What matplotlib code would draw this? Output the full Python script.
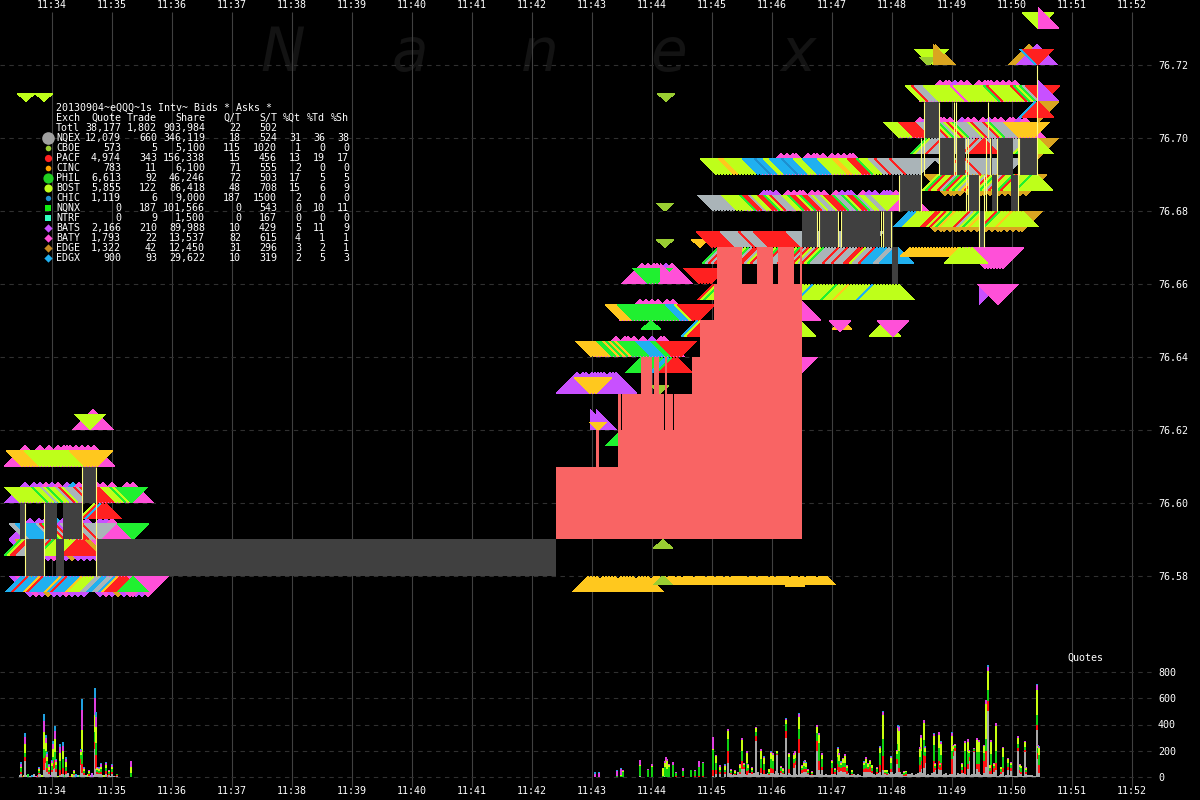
import matplotlib
matplotlib.use("Agg")
import matplotlib.pyplot as plt
from matplotlib.collections import PolyCollection

# eixo x em segundos desde 11:33:08 (1 s = 1 px no original)
minute_ticks = [52, 112, 172, 232, 292, 352, 412, 472, 532, 592, 652, 712, 772, 832, 892, 952, 1012, 1072, 1132]
minute_labels = ["11:34", "11:35", "11:36", "11:37", "11:38", "11:39", "11:40", "11:41", "11:42", "11:43",
                 "11:44", "11:45", "11:46", "11:47", "11:48", "11:49", "11:50", "11:51", "11:52"]
price_ticks = [76.58, 76.60, 76.62, 76.64, 76.66, 76.68, 76.70, 76.72]
quote_ticks = [0, 200, 400, 600, 800]

# tabela de resumo
table_exch = ["NQEX", "CBOE", "PACF", "CINC", "PHIL", "BOST", "CHIC", "NQNX", "NTRF", "BATS", "BATY", "EDGE", "EDGX"]
table_quote = ["12,079", "573", "4,974", "783", "6,613", "5,855", "1,119", "0", "0", "2,166", "1,793", "1,322", "900"]
table_trade = ["660", "5", "343", "11", "92", "122", "6", "187", "9", "210", "22", "42", "93"]
table_share = ["346,119", "5,100", "156,338", "6,100", "46,246", "86,418", "9,000", "101,566", "1,500", "89,988",
               "13,537", "12,450", "29,622"]
table_qt = ["18", "115", "15", "71", "72", "48", "187", "0", "0", "10", "82", "31", "10"]
table_st = ["524", "1020", "456", "555", "503", "708", "1500", "543", "167", "429", "615", "296", "319"]
table_xq = ["31", "1", "13", "2", "17", "15", "2", "0", "0", "5", "4", "3", "2"]
table_xt = ["36", "0", "19", "0", "5", "6", "0", "10", "0", "11", "1", "2", "5"]
table_xs = ["38", "0", "17", "0", "5", "9", "0", "11", "0", "9", "1", "1", "3"]

# cores por bolsa (uma letra por bolsa)
colors = {
    "q": "#AAB4B8", "c": "#9ACD32", "p": "#FF2020", "i": "#FFC81E", "h": "#20F030", "b": "#BEFF1A",
    "x": "#1E90D0", "n": "#10F010", "t": "#30FFC0", "a": "#C850FF", "y": "#FF50D8", "e": "#DAA520", "g": "#20B0F0",
}
legend_colors = ["#A0A0A0", "#9ACD32", "#FF2020", "#FFA500", "#20D020", "#BEFF1A", "#1E90D0",
                 "#10F010", "#30FFC0", "#C850FF", "#FF50D8", "#C88A20", "#20B0F0"]
legend_markers = ["o", "o", "o", "o", "o", "o", "o", "s", "s", "D", "D", "D", "D"]
legend_sizes = [110, 22, 36, 22, 72, 45, 20, 22, 22, 24, 24, 24, 24]

# cotações: início, preço, tipo, uma letra por cotação (a cada 3 s), espaço = sem cotação
band_start = [
    93, 25, 25, 127, 30, 100, 30, 100, 30, 100, 133,
    577, 590, 616, 640, 642, 764, 781, 920, 940, 935, 1029, 1037,
    90, 22, 20, 132, 25, 133, 20, 94, 21, 96, 133,
    590, 598, 621, 660, 651, 621, 591, 641, 648, 660, 699, 697, 700,
    935, 945, 985,
    712, 718, 713, 713, 716, 909, 910, 960, 938, 950,
    899, 921, 926, 984, 930, 928, 933,
    979, 998, 885, 893, 842, 840, 797, 800, 800,
    1038, 1038, 1035, 1038, 1038, 1035, 1038, 1038,
    588, 655, 663, 663, 795, 666, 665, 665, 666, 26, 44,
]
band_price = [
    76.62, 76.61, 76.60, 76.60, 76.59, 76.59, 76.59, 76.59, 76.58, 76.58, 76.58,
    76.63, 76.62, 76.64, 76.65, 76.66, 76.68, 76.69, 76.70, 76.71, 76.72, 76.72, 76.72,
    76.62, 76.61, 76.60, 76.60, 76.59, 76.59, 76.59, 76.60, 76.58, 76.58, 76.58,
    76.63, 76.62, 76.62, 76.63, 76.65, 76.65, 76.64, 76.64, 76.66, 76.66, 76.66, 76.65, 76.67,
    76.68, 76.69, 76.67,
    76.67, 76.67, 76.66, 76.68, 76.69, 76.68, 76.67, 76.67, 76.69, 76.69,
    76.70, 76.71, 76.70, 76.70, 76.72, 76.72, 76.72,
    76.66, 76.66, 76.65, 76.65, 76.65, 76.65, 76.64, 76.65, 76.65,
    76.73, 76.73, 76.72, 76.71, 76.71, 76.71, 76.70, 76.70,
    76.58, 76.58, 76.59, 76.58, 76.58, 76.71, 76.68, 76.67, 76.71, 76.71, 76.71,
]
band_kind = [
    "hi", "hi", "hi", "hi", "hi", "hi", "lo", "lo", "lo", "lo", "lo",
    "hi", "hi_r", "hi", "hi", "hi", "hi", "hi", "hi", "hi", "hi_r", "hi", "hi",
    "bid", "bid", "bid", "bid", "bid", "bid", "ask", "ask", "ask", "ask", "ask",
    "bid", "bid_s", "ask", "bid_s", "ask_s", "bid", "bid", "ask", "bid", "hi_r", "bid", "ask", "bid_s",
    "lo", "lo", "lo",
    "bid", "ask", "ask", "bid", "bid", "ask", "ask_s", "ask", "ask", "bid",
    "bid", "bid", "ask", "ask", "bid", "bid_s", "hi_r",
    "lo_r", "lo", "ask", "lo_m", "ask_s", "lo_s", "lo", "hi_r", "ask",
    "bid", "hi_r", "bid", "hi_r", "lo_r", "ask", "lo_r", "ask",
    "ask", "ask_s", "ask_s", "ask_s", "ask_m", "bid_s", "bid_s", "bid_s", "bid_s", "bid_s", "bid_s",
]
band_codes = [
    "y", "y    y  y  y yyy y y y y", "a  a a y a y  a g y a a y y  y", "y y", "a  a a a g a a a a a", "a a y",
    "a e a a y a a e a a a a y a a y", "a e y a", "a y a e a a y a a a", "a y a e a y a a y", "y",
    "a aa aaaaa aaa", "a a", "y  yy y  y  a  yy", "y y y y  y y", "y y yy  a y",
    "aaa a   y y yy  y y y   y a aa   y a a  aaa y a y", "y y yy   y yy y  y y y yy",
    "y a  y yy y   a y y  y a y y  yy a y", "y yy a y y   y yyy y y y y", "e", "e", "a",
    "b", "iiiiiibbbbbbbbbbbbbbbiiiii", "bbbbbbbbbhbbqbhbbqpbqqqpqpppppppbbbhbh", "h",
    "qqgggggggqphbpqpaqqqppqqpq", "h", "hbppqqqqpqphbbbbbbbppp", "bpgpp", "ggpgggipgggggigpggggibbbb",
    "qqggqqgippp", "h",
    "iii", "i", "h", "c", "h", "iiiihhhhhhhhhhhhhhhhgggbppp", "iiiiiiihhihihihhhhhhggggghhpppp", "hhhhhhhhgghpp",
    "hhhh", "y", "ppppp", "gbp", "i",
    "e ee e ee e e e ee e ee e e ee", "e ee e  e e ee e ee e e ee e", "yyyyyyy",
    "ppppppppqqqqqqpqqqqpppppppppppqqqqqqqqqqqqqqqqqqqqqqq",
    "hqpqpbqpqbhqppqbpqqbhpqqqpbhpqpbqpbhqqqqpqqpqqqppbqqpggggqqgg",
    "pbhbbbbbbbhbbbbbbbhbbbbbbhbbibbbbgbbbbbbbhbbbibbbbbbbgbbbbbbbbb",
    "qqqqqqqqbbbbbbhppqbbpphbpqqqbbhppbhppqbqqbppphqqhbpphqbbqqb",
    "bbbbbbiibbbbbbggggxggbbggggxgggbbbgggggbbbbbiibbbppphbbbqqpqqqqpqqqqq",
    "gggbbbbbbppbpbhibbbbpqbhbibbbphbbbibbbb", "iiiiiiiiiiiiiiiii", "bbbbb",
    "bhpbbpqhpbhbqipbqpbhbqpbbhpbbbbhbb", "qqpqqqpqqqpqqqqqqqqq",
    "bbbbbppppppqqqqqpbhqbpbhqqqqbpqqqpbhqqqqiiiiii",
    "bbpqqqbbbbbbbbbybbbbbbbbbbhpbbbbbbbphbhqpp",
    "hbqqqpqqqqqqqqqqqpqqqqqqqqqqqqqqqqbhb", "p", "bb", "c", "e",
    "a", "y", "b", "y", "i", "y", "y", "y", "b",
    "b", "y", "gp", "a", "e", "gp", "e", "b",
    "iiii iiiii iiiii iiii", "ii i ii i iii iii ii ii i iiiii ii iii i iiii ii i iii iii", "c", "c", "i", "c", "c", "c", "c", "b", "b",
]

# spread cinza e linhas amarelas
spread_start = [20, 25, 44, 56, 63, 82, 96, 802, 820, 842, 884, 892, 899, 924, 939, 956, 969, 979, 990, 992, 997, 1011, 1019]
spread_end = [25, 44, 57, 64, 82, 96, 556, 817, 838, 880, 891, 898, 921, 939, 954, 965, 979, 984, 992, 997, 1013, 1018, 1037]
spread_low = [76.59, 76.58, 76.59, 76.58, 76.59, 76.60, 76.58, 76.67, 76.67, 76.67, 76.67, 76.66, 76.68, 76.70, 76.69, 76.69,
              76.68, 76.67, 76.69, 76.68, 76.69, 76.68, 76.69]
spread_high = [76.60, 76.59, 76.60, 76.59, 76.60, 76.61, 76.59, 76.68, 76.68, 76.68, 76.68, 76.67, 76.69, 76.71, 76.70, 76.70,
               76.69, 76.68, 76.70, 76.69, 76.70, 76.69, 76.70]
edge_sec = [25, 44, 82, 96, 817, 819, 838, 841, 881, 883, 891, 899, 921, 924, 939, 954, 956, 966, 968, 979, 984, 986, 988, 990,
            997, 1018, 1019, 1037]
edge_low = [76.58, 76.58, 76.59, 76.58, 76.67, 76.67, 76.67, 76.67, 76.67, 76.67, 76.67, 76.68, 76.68, 76.69, 76.69, 76.69,
            76.69, 76.68, 76.68, 76.67, 76.67, 76.68, 76.70, 76.69, 76.68, 76.68, 76.69, 76.69]
edge_high = [76.60, 76.60, 76.61, 76.61, 76.68, 76.68, 76.68, 76.68, 76.68, 76.68, 76.68, 76.69, 76.70, 76.71, 76.71, 76.71,
             76.71, 76.70, 76.70, 76.69, 76.69, 76.70, 76.71, 76.70, 76.70, 76.70, 76.70, 76.72]

# região vermelha (bid cruzado): degraus
red_edges = [556, 596, 599, 618, 621, 622, 641, 652, 654, 659, 664, 665, 667, 673, 674, 692, 700, 714, 717, 742, 757, 773, 778,
             794, 800, 802]
red_tops = [76.61, 76.62, 76.61, 76.63, 76.62, 76.63, 76.64, 76.63, 76.64, 76.63, 76.62, 76.64, 76.63, 76.62, 76.63, 76.64,
            76.65, 76.66, 76.67, 76.66, 76.67, 76.66, 76.67, 76.66, 76.67, 76.67]
red_bottom = 76.59

# barras de quotes por segundo
vol_sec = [21, 25, 39, 44, 46, 47, 49, 52, 53, 55, 56, 60, 63, 66, 74, 81, 82, 84, 89, 95, 96, 97, 99, 101, 106, 109, 112, 117, 131,
           595, 599, 617, 621, 623, 640, 648, 652, 663, 665, 666, 667, 669, 673, 676, 683, 691, 695, 699, 703,
           713, 716, 720, 725, 728, 731, 735, 740, 742, 744, 747, 748, 752, 756, 761, 764, 769, 771, 773, 777,
           781, 783, 786, 789, 794, 795, 799, 802, 805,
           804, 806, 808, 812, 817, 819, 822, 832, 835, 838, 839, 841, 843, 845, 847, 852, 864, 866, 868, 870,
           872, 877, 880, 883, 885, 887, 891, 897, 898, 899, 904, 906, 920, 921, 924, 925, 934, 935, 939, 940,
           941, 952, 953, 955, 962, 965, 968, 969, 974, 977, 979, 984, 986, 988, 990, 991, 994, 996, 1001, 1003,
           1008, 1011, 1018, 1020, 1021, 1025, 1026, 1037, 1038, 1039]
vol_nqex = [25, 120, 20, 55, 110, 40, 20, 40, 60, 70, 40, 15, 20, 25, 15, 90, 30, 15, 10, 210, 60, 25, 20, 20, 20, 15, 20, 10, 0,
            0, 0, 0, 0, 0, 5, 0, 0, 0, 5, 0, 0, 0, 0, 0, 0, 0, 0, 0, 0,
            5, 20, 20, 25, 107, 20, 15, 20, 60, 60, 15, 30, 20, 272, 30, 20, 15, 30, 30, 170,
            30, 20, 297, 30, 70, 90, 183, 30, 50,
            40, 40, 20, 15, 196, 50, 50, 20, 25, 50, 40, 45, 40, 35, 25, 15, 35, 40, 40, 40,
            30, 25, 40, 50, 20, 15, 40, 100, 120, 40, 10, 10, 40, 60, 70, 110, 35, 50, 60, 55,
            50, 20, 160, 200, 30, 20, 60, 120, 190, 60, 40, 30, 80, 500, 25, 25, 40, 50, 25, 40,
            50, 45, 200, 30, 25, 190, 25, 360, 140, 30]
vol_pacf = [15, 30, 10, 90, 50, 30, 15, 15, 40, 60, 20, 40, 50, 20, 8, 50, 70, 15, 10, 60, 110, 10, 10, 15, 25, 10, 20, 5, 0,
            0, 0, 0, 0, 0, 5, 0, 0, 0, 0, 0, 0, 0, 0, 5, 10, 0, 5, 5, 10,
            50, 30, 15, 15, 90, 10, 8, 20, 60, 15, 30, 20, 15, 40, 40, 30, 10, 40, 30, 5,
            15, 12, 55, 30, 40, 30, 110, 20, 30,
            20, 20, 10, 8, 75, 70, 30, 45, 10, 50, 40, 25, 35, 40, 20, 10, 25, 30, 20, 35,
            15, 15, 50, 110, 10, 10, 20, 40, 30, 30, 8, 10, 50, 60, 100, 50, 90, 15, 60, 20,
            60, 120, 30, 20, 20, 60, 40, 30, 10, 40, 60, 90, 120, 80, 20, 70, 25, 60, 15, 30,
            30, 25, 20, 20, 15, 15, 15, 40, 40, 60]
vol_phil = [25, 35, 15, 70, 40, 50, 20, 30, 50, 60, 30, 70, 70, 30, 10, 25, 90, 15, 12, 70, 90, 15, 15, 25, 25, 10, 20, 5, 30,
            0, 0, 5, 10, 40, 75, 50, 80, 5, 70, 80, 60, 80, 90, 25, 35, 54, 40, 70, 100,
            150, 60, 20, 15, 90, 15, 10, 25, 80, 15, 60, 20, 20, 30, 70, 50, 15, 70, 60, 5,
            20, 15, 50, 90, 30, 25, 75, 20, 25,
            25, 20, 15, 10, 65, 140, 60, 45, 15, 50, 40, 20, 30, 35, 20, 15, 30, 35, 20, 25,
            25, 20, 90, 130, 10, 10, 45, 35, 100, 130, 15, 15, 60, 80, 110, 30, 120, 20, 100, 15,
            60, 60, 25, 15, 30, 120, 90, 30, 10, 90, 90, 60, 90, 80, 25, 80, 20, 90, 20, 80,
            30, 20, 30, 25, 25, 25, 15, 70, 40, 80]
vol_bost = [15, 70, 15, 130, 60, 30, 20, 20, 60, 100, 25, 60, 60, 40, 10, 25, 170, 15, 10, 130, 120, 15, 13, 20, 20, 10, 15, 5, 50,
            0, 0, 0, 5, 5, 10, 5, 5, 60, 30, 50, 60, 10, 4, 0, 3, 0, 0, 5, 0,
            10, 50, 25, 30, 60, 12, 15, 25, 80, 12, 80, 25, 15, 30, 55, 45, 20, 40, 50, 15,
            15, 15, 30, 25, 30, 40, 90, 15, 15,
            25, 25, 10, 8, 45, 60, 30, 15, 13, 60, 50, 20, 30, 50, 22, 12, 20, 35, 20, 25,
            18, 12, 40, 180, 12, 18, 40, 25, 120, 150, 8, 10, 60, 100, 130, 30, 70, 15, 100, 12,
            80, 110, 20, 10, 20, 60, 80, 20, 5, 90, 80, 55, 270, 150, 20, 95, 15, 190, 15, 70,
            28, 18, 50, 20, 18, 35, 17, 190, 20, 50]
vol_rest = [20, 50, 10, 85, 40, 25, 15, 15, 40, 60, 15, 40, 40, 25, 7, 15, 150, 10, 8, 130, 80, 10, 10, 16, 14, 5, 15, 0, 44,
            25, 30, 40, 45, 8, 32, 5, 15, 3, 15, 22, 20, 10, 20, 8, 20, 2, 11, 44, 4,
            90, 10, 8, 10, 15, 5, 6, 8, 15, 4, 10, 4, 5, 7, 15, 10, 3, 10, 10, 3,
            5, 5, 12, 6, 10, 10, 25, 7, 10,
            8, 5, 4, 2, 12, 12, 10, 5, 4, 14, 10, 8, 8, 12, 6, 2, 8, 10, 5, 5,
            5, 3, 12, 28, 2, 2, 10, 6, 20, 30, 2, 3, 15, 18, 22, 10, 16, 5, 20, 3,
            20, 28, 9, 5, 5, 15, 17, 7, 5, 14, 12, 9, 25, 30, 3, 12, 5, 18, 4, 7,
            6, 5, 12, 4, 2, 7, 3, 40, 5, 12]
vol_edge = [14, 30, 6, 50, 22, 15, 10, 10, 27, 41, 10, 29, 27, 12, 5, 11, 84, 6, 5, 80, 38, 5, 5, 10, 10, 5, 10, 0, 0,
            13, 8, 11, 8, 3, 5, 0, 0, 0, 4, 0, 0, 0, 0, 0, 0, 0, 0, 0, 0,
            2, 0, 3, 2, 4, 2, 2, 2, 5, 1, 3, 1, 1, 2, 3, 2, 1, 6, 3, 2,
            1, 1, 6, 2, 3, 3, 7, 2, 2,
            2, 2, 1, 0, 3, 3, 3, 2, 1, 4, 3, 2, 2, 3, 1, 1, 2, 2, 1, 2,
            1, 1, 4, 7, 1, 0, 2, 2, 6, 6, 0, 0, 3, 4, 5, 3, 4, 1, 5, 1,
            4, 5, 2, 1, 1, 2, 3, 1, 1, 3, 2, 2, 4, 15, 1, 2, 1, 3, 1, 1,
            1, 1, 3, 1, 1, 2, 1, 11, 1, 1]

# base baixa de quotes (a cada 2 s)
base_left_start = 20
base_left = [12, 8, 18, 14, 22, 9, 15, 24, 11, 16, 20, 13, 27, 10, 19, 14, 25, 12, 18, 9, 16, 22, 13, 17, 28, 11, 20, 15,
             24, 12, 19, 26, 10, 17, 21, 13, 30, 16, 22, 14, 25, 18, 12, 20, 15, 10, 14, 8, 6]
base_left_codes = "qpbqhqgqypqbqhqaqpqbqqhyqpbqgqhqpqbqaqqhpqbqpqhqp"
base_right_start = 728
base_right = [22, 30, 14, 26, 18, 35, 24, 16, 32, 20, 40, 28, 15, 30, 22, 36, 18, 26, 42, 20, 30, 16, 34, 25, 45, 28, 18, 32,
              22, 38, 16, 26, 14, 30, 20, 12, 24, 18, 10, 28, 16, 12, 22, 14, 18, 10, 20, 12, 16, 24, 12, 18, 30, 22, 14, 26,
              12, 20, 8, 24, 34, 16, 28, 20, 12, 26, 18, 10, 22, 14, 30, 12, 20, 26, 16, 34, 22, 14, 28, 18, 32, 24, 40, 20,
              28, 16, 36, 22, 30, 14, 26, 20, 34, 18, 24, 30, 16, 28, 22, 12, 26, 18, 32, 14, 24, 20, 30, 16, 22, 34, 18, 26,
              12, 24, 16, 30, 20, 14, 28, 18, 22, 12, 26, 16, 20, 10, 24, 14, 18, 8, 16, 12, 20, 10, 14, 8, 12, 6, 10, 14, 8,
              12, 10, 6, 8, 14, 20, 10, 6, 8, 12, 16, 14, 10, 8, 20]

PX = 0.02 / 73  # preço por pixel
SHAPES = {
    "bid": (16, 0, 16), "ask": (16, 0, -16), "hi": (21, 21, 0), "lo": (21, -21, 0),
    "bid_s": (9, 0, 8), "ask_s": (10, 0, -9), "ask_m": (10, 0, -11),
    "lo_s": (11, -11, 0), "lo_m": (16, -16, 0),
    "hi_r": (21, 21, 0), "lo_r": (21, -21, 0),
}
BAND_STEP = 3

plt.rcParams["font.family"] = ["DejaVu Sans Mono"]
plt.rcParams["font.size"] = 7.2

fig = plt.figure(figsize=(12, 8), dpi=100, facecolor="black")
ax = fig.add_axes([0, 0, 1, 1], facecolor="black")
ax.set_xlim(0, 1200)
ax.set_ylim(76.72 - 735 * PX, 76.72 + 65 * PX)

# grade
ax.vlines(minute_ticks, 1 - 787 / 800, 1 - 12 / 800, transform=ax.get_xaxis_transform(), color="#404040", lw=0.8, zorder=1)
ax.hlines(price_ticks, 0, 1153, color="#303030", lw=0.8, linestyles=(0, (4, 4)), zorder=1)

# marca d'água
for letter, xpos in zip("Nanex", [283, 410, 540, 669, 798]):
    ax.text(xpos / 1200, 1 - 54 / 800, letter, transform=ax.transAxes, ha="center", va="center", color="#131313",
            fontsize=43, style="italic", family="DejaVu Sans", zorder=0)

# triângulos das cotações
for start, price, kind, codes in zip(band_start, band_price, band_kind, band_codes, strict=True):
    hw, apex, base = SHAPES[kind]
    verts, cols = [], []
    for i, code in enumerate(codes):
        if code == " ":
            continue
        x = start + i * BAND_STEP
        left = x if kind.endswith("_r") else x - hw
        verts.append([(left, price + base * PX), (x, price + apex * PX), (x + hw, price + base * PX)])
        cols.append(colors[code])
    ax.add_collection(PolyCollection(verts, facecolors=cols, edgecolors="none", antialiaseds=False, zorder=3))

# spread
ax.fill_between(red_edges, red_bottom, red_tops, step="post", color="#F96464", lw=0, zorder=4, antialiased=False)
for x0, x1, low, high in zip(spread_start, spread_end, spread_low, spread_high, strict=True):
    ax.fill_between([x0, x1], low, high, color="#404040", lw=0, zorder=4, antialiased=False)
ax.vlines(edge_sec, edge_low, edge_high, color="#FFFF80", lw=0.8, zorder=5)

# eixos: horas em cima e embaixo, preços à direita
for spine in ax.spines.values():
    spine.set_visible(False)
ax.set_xticks(minute_ticks, minute_labels)
ax.tick_params(axis="x", length=0, colors="white", pad=-14 * 0.72)
ax.yaxis.tick_right()
ax.set_yticks(price_ticks, [f"{p:.2f}" for p in price_ticks])
ax.tick_params(axis="y", length=0, colors="white", pad=-42 * 0.72)
top = ax.secondary_xaxis("top")
top.set_xticks(minute_ticks, minute_labels)
top.tick_params(length=0, colors="white", pad=-10 * 0.72)
top.spines["top"].set_visible(False)

# painel de quotes
ax_vol = fig.add_axes([0, 0, 1, 1], facecolor="none")
ax_vol.set_xlim(0, 1200)
ax_vol.set_ylim(-23 / 0.13125, 777 / 0.13125)
ax_vol.hlines(quote_ticks, 0, 1153, color="#303030", lw=0.8, linestyles=(0, (4, 4)), zorder=1)
left_secs = [base_left_start + 2 * i for i in range(len(base_left))]
ax_vol.bar(left_secs, base_left, width=2, color=[colors[c] for c in base_left_codes], lw=0, antialiased=False, zorder=2)
right_secs = [base_right_start + 2 * i for i in range(len(base_right))]
ax_vol.bar(right_secs, base_right, width=2, color="#A8A8A8", lw=0, antialiased=False, zorder=2)
bottom = [0] * len(vol_sec)
stack_series = [(vol_nqex, "#A8A8A8"), (vol_pacf, "#FF1010"), (vol_phil, "#10D010"), (vol_bost, "#C8FF10"),
                (vol_rest, "#E040E0"), (vol_edge, "#20A0E0")]
for values, color in stack_series:
    ax_vol.bar(vol_sec, values, bottom=bottom, width=1.4, color=color, lw=0, antialiased=False, zorder=3)
    bottom = [b + v for b, v in zip(bottom, values, strict=True)]
for spine in ax_vol.spines.values():
    spine.set_visible(False)
ax_vol.set_xticks([])
ax_vol.yaxis.tick_right()
ax_vol.set_yticks(quote_ticks, [str(q) for q in quote_ticks])
ax_vol.tick_params(axis="y", length=0, colors="white", pad=-42 * 0.72)
ax_vol.text(1085 / 1200, 1 - 658 / 800, "Quotes", transform=ax_vol.transAxes, color="white", ha="center", va="center")


def row_text(x, y, text, ha="right"):
    ax_vol.text(x / 1200, 1 - y / 800, text, transform=ax_vol.transAxes, color="white", ha=ha, va="center", zorder=9)


# tabela
row_text(56, 108, "20130904~eQQQ~1s Intv~ Bids * Asks *", ha="left")
column_x = [121, 157, 205, 241, 277, 301, 325, 349]
headers = ["Quote", "Trade", "Share", "Q/T", "S/T", "%Qt", "%Td", "%Sh"]
totals = ["38,177", "1,802", "903,984", "22", "502", "", "", ""]
row_text(56, 118, "Exch", ha="left")
row_text(56, 128, "Totl", ha="left")
for xpos, header, total in zip(column_x, headers, totals, strict=True):
    row_text(xpos, 118, header)
    row_text(xpos, 128, total)
columns = [table_quote, table_trade, table_share, table_qt, table_st, table_xq, table_xt, table_xs]
for r, name in enumerate(table_exch):
    y = 138 + r * 10
    row_text(56, y, name, ha="left")
    for xpos, column in zip(column_x, columns, strict=True):
        row_text(xpos, y, column[r])
    ax_vol.scatter([48 / 1200], [1 - y / 800], transform=ax_vol.transAxes, s=legend_sizes[r] * 0.75, c=legend_colors[r],
                   marker=legend_markers[r], linewidths=0, zorder=8, clip_on=False)

fig.savefig("out.png", dpi=100, facecolor="black")
